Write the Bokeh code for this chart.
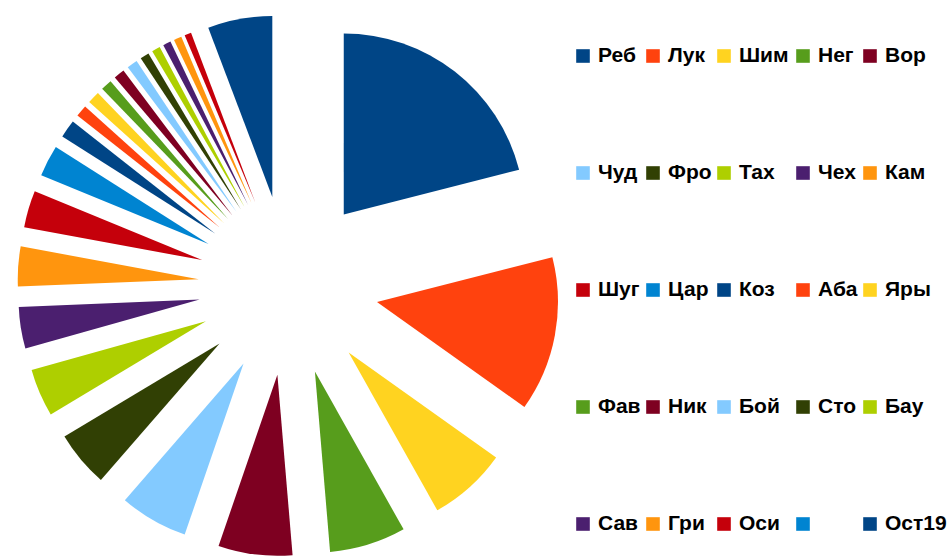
import math
from bokeh.plotting import figure
from bokeh.models import ColumnDataSource, Legend, LegendItem, Range1d
from bokeh.core.properties import value
from bokeh.embed import file_html
from bokeh.resources import INLINE

# ---- data ----
names = ["Реб", "Лук", "Шим", "Нег", "Вор",
         "Чуд", "Фро", "Тах", "Чех", "Кам",
         "Шуг", "Цар", "Коз", "Аба", "Яры",
         "Фав", "Ник", "Бой", "Сто", "Бау",
         "Сав", "Гри", "Оси", "", "Ост19"]
shares = [21.0, 13.8, 7.0, 6.8, 6.6,
          6.1, 5.0, 4.25, 3.7, 3.55,
          3.3, 2.8, 1.6, 1.05, 1.1,
          1.0, 0.97, 0.95, 0.8, 0.75,
          0.7, 0.7, 0.6, 0.0, 5.75]
palette = ["#004586", "#ff420e", "#ffd320", "#579d1c", "#7e0021",
           "#83caff", "#314004", "#aecf00", "#4b1f6f", "#ff950e",
           "#c5000b", "#0084d1"]
colors = [palette[i % len(palette)] for i in range(len(names))]

# ---- layout constants ----
W, H = 951, 556
CX, CY = 288, 271      # pie centre (data = px)
R = 181                # radius
EXPLODE = 90           # offset of each slice along its bisector

total = sum(shares)
starts, ends, xs, ys = [], [], [], []
cum = 0.0
for v in shares:
    a0 = math.pi / 2 - 2 * math.pi * cum / total
    cum += v
    a1 = math.pi / 2 - 2 * math.pi * cum / total
    if a1 == a0:           # empty slice: keep it degenerate, not a full disc
        a1 = a0 - 1e-5
    mid = (a0 + a1) / 2
    starts.append(a0)
    ends.append(a1)
    xs.append(CX + EXPLODE * math.cos(mid))
    ys.append(CY + EXPLODE * math.sin(mid))

src = ColumnDataSource(dict(x=xs, y=ys, start=starts, end=ends,
                            color=colors, name=names))

p = figure(width=W, height=H, output_backend="svg", toolbar_location=None,
           x_range=Range1d(0, W), y_range=Range1d(0, H),
           x_axis_type=None, y_axis_type=None, min_border=0)
p.grid.visible = False
p.outline_line_color = None
p.background_fill_color = "white"

r = p.wedge(x="x", y="y", radius=R, start_angle="start", end_angle="end",
            direction="clock", fill_color="color", line_color=None, source=src)

col_x = [574, 644, 715, 794, 861]
for c in range(5):
    items = [LegendItem(label=value(names[i]), renderers=[r], index=i)
             for i in range(c, len(names), 5)]
    lg = Legend(items=items, location=(col_x[c], 21), orientation="vertical",
                padding=0, margin=0, spacing=93,
                glyph_width=17, glyph_height=17, label_height=24,
                label_standoff=7,
                label_text_font="Liberation Sans", label_text_font_style="bold",
                label_text_font_size="21px", label_text_color="black",
                border_line_color=None, background_fill_alpha=0)
    p.add_layout(lg)

open("out.html", "w").write(file_html(p, INLINE))
